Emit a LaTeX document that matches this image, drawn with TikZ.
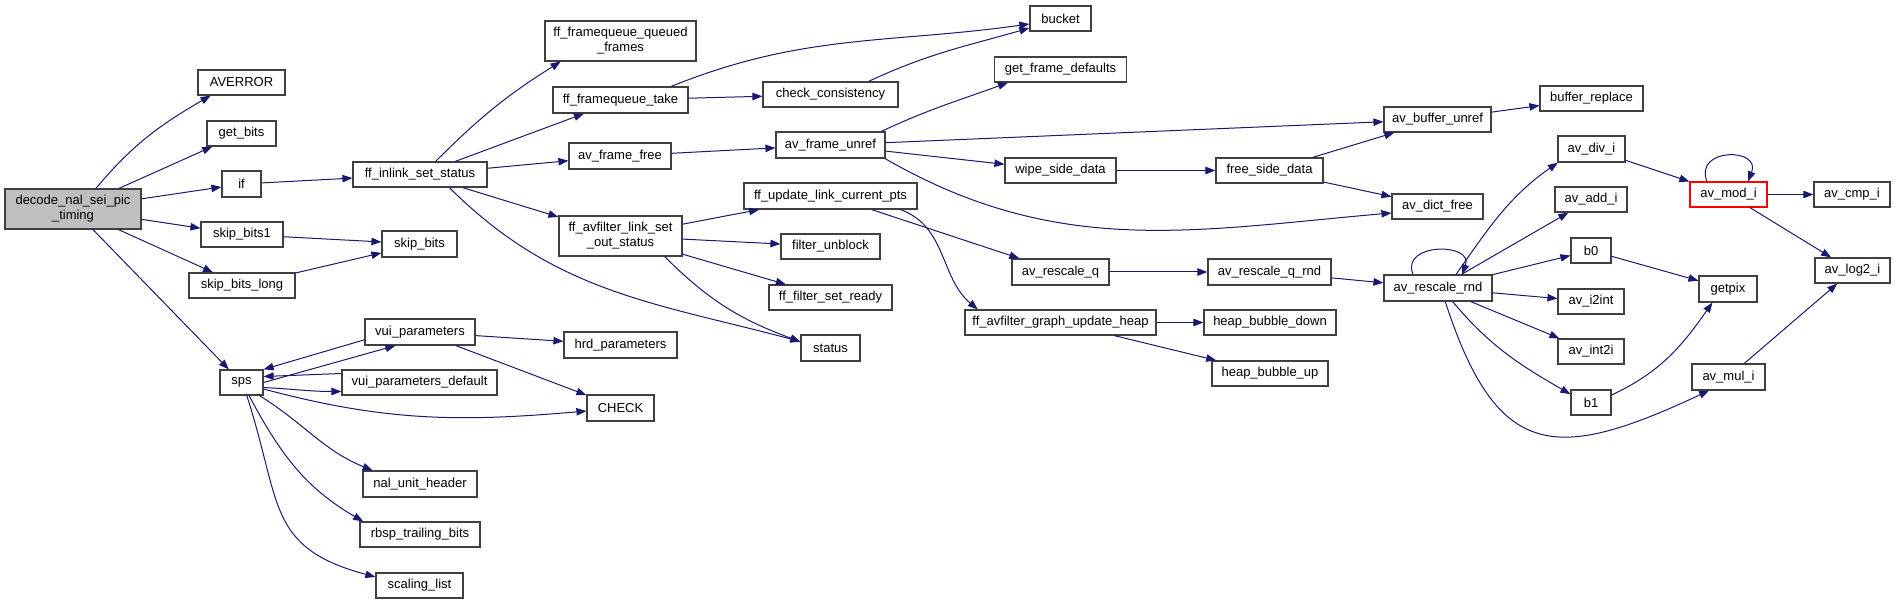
\documentclass[tikz,border=0pt]{standalone}
\usepackage{fontspec}
\setmainfont{Liberation Sans}
\usetikzlibrary{arrows.meta,calc}
\definecolor{edgeblue}{RGB}{25,25,112}
\definecolor{boxgray}{RGB}{64,64,64}
\definecolor{nodefill}{RGB}{191,191,191}
\tikzset{
  box/.style={draw=boxgray, fill=white, line width=0.9pt, inner sep=0pt, align=center,
    font=\fontsize{9.75}{11.25}\selectfont},
  e/.style={draw=edgeblue, line width=0.75pt, -{Triangle[length=7.5pt,width=5.6pt]}},
}
\newcommand\mynode[7][]{\node[box,#1,minimum width=#5*0.75pt,minimum height=#6*0.75pt] (#2) at (#3,#4) {#7};}
\begin{document}
\begin{tikzpicture}[x=0.75pt,y=0.75pt]
\useasboundingbox (0,0) rectangle (1896,604);
\fill[white] (0,0) rectangle (1896,604);
% nodes
\mynode[fill=nodefill]{decode}{73}{395}{136}{40}{decode\_nal\_sei\_pic\\\_timing}
\mynode{averror}{241.5}{521.5}{87}{25}{AVERROR}
\mynode{getbits}{241.5}{470.5}{69}{25}{get\_bits}
\mynode{iff}{241.5}{420}{39}{26}{if}
\mynode{ffin}{420}{429.5}{134}{25}{ff\_inlink\_set\_status}
\mynode{sb1}{242}{369.5}{82}{25}{skip\_bits1}
\mynode{sb}{419.5}{360}{75}{26}{skip\_bits}
\mynode{sbl}{242}{318.5}{106}{25}{skip\_bits\_long}
\mynode{vui}{420}{272}{110}{26}{vui\_parameters}
\mynode{sps}{241.5}{221.5}{43}{25}{sps}
\mynode{vuidef}{419.5}{221.5}{155}{25}{vui\_parameters\_default}
\mynode{nal}{420}{120}{114}{26}{nal\_unit\_header}
\mynode{rbsp}{420}{69.5}{120}{25}{rbsp\_trailing\_bits}
\mynode{scal}{419.5}{18.5}{87}{25}{scaling\_list}
\mynode{fqqf}{620.5}{563}{151}{40}{ff\_framequeue\_queued\\\_frames}
\mynode{fqt}{620.5}{504}{135}{26}{ff\_framequeue\_take}
\mynode{cc}{830.5}{509.5}{135}{25}{check\_consistency}
\mynode{aff}{620}{448}{102}{26}{av\_frame\_free}
\mynode{afu}{830.5}{459}{109}{26}{av\_frame\_unref}
\mynode{fulc}{830.5}{408}{173}{26}{ff\_update\_link\_current\_pts}
\mynode{flso}{620.5}{368}{123}{40}{ff\_avfilter\_link\_set\\\_out\_status}
\mynode{fub}{830.5}{357.5}{99}{25}{filter\_unblock}
\mynode{fsr}{830.5}{306.5}{123}{25}{ff\_filter\_set\_ready}
\mynode{hrd}{620.5}{259}{113}{26}{hrd\_parameters}
\mynode{check}{620.5}{196}{67}{26}{CHECK}
\mynode{status}{830.5}{256}{59}{26}{status}
\mynode{guh}{1060.5}{281.5}{191}{25}{ff\_avfilter\_graph\_update\_heap}
\mynode{bucket}{1060.5}{585.5}{61}{25}{bucket}
\mynode{gfd}{1060.5}{534.5}{132}{25}{get\_frame\_defaults}
\mynode{wsd}{1060.5}{433.5}{111}{25}{wipe\_side\_data}
\mynode{arq}{1060.5}{332}{97}{26}{av\_rescale\_q}
\mynode{bur}{1437.5}{484.5}{107}{25}{av\_buffer\_unref}
\mynode{fsd}{1269.5}{433.5}{107}{25}{free\_side\_data}
\mynode{adf}{1437.5}{397.5}{91}{25}{av\_dict\_free}
\mynode{arqr}{1269.5}{332}{123}{26}{av\_rescale\_q\_rnd}
\mynode{arr}{1438}{316}{108}{26}{av\_rescale\_rnd}
\mynode{hbd}{1270}{281.5}{132}{25}{heap\_bubble\_down}
\mynode{hbu}{1270}{230.5}{116}{25}{heap\_bubble\_up}
\mynode{brp}{1591.5}{505.5}{103}{25}{buffer\_replace}
\mynode{adiv}{1591.5}{455}{67}{26}{av\_div\_i}
\mynode{aadd}{1591}{404.5}{72}{25}{av\_add\_i}
\mynode{bzero}{1591}{353.5}{40}{25}{b0}
\mynode{ai2int}{1591}{302.5}{66}{25}{av\_i2int}
\mynode{aint2i}{1591}{252.5}{66}{25}{av\_int2i}
\mynode{bone}{1591}{201.5}{40}{25}{b1}
\mynode[draw=red]{amod}{1728.5}{409.5}{77}{25}{av\_mod\_i}
\mynode{getpix}{1728}{315}{58}{26}{getpix}
\mynode{amul}{1728.5}{227}{73}{26}{av\_mul\_i}
\mynode{acmp}{1852}{409.5}{76}{25}{av\_cmp\_i}
\mynode{alog}{1852.5}{333.5}{75}{25}{av\_log2\_i}
% edges from decode
\draw[e] (decode.42) to[out=50,in=210] (averror.203);
\draw[e] (decode) -- (getbits);
\draw[e] (decode) -- (iff);
\draw[e] (decode) -- (sb1);
\draw[e] (decode) -- (sbl);
\draw[e] (decode) -- (sps);
\draw[e] (iff) -- (ffin);
\draw[e] (sb1) -- (sb);
\draw[e] (sbl) -- (sb);
% ff_inlink_set_status
\draw[e] (ffin.40) to[out=45,in=212] (fqqf.199);
\draw[e] (ffin) -- (fqt);
\draw[e] (ffin) -- (aff);
\draw[e] (ffin) -- (flso);
\draw[e] (ffin.336) to[out=-45,in=165] (status.168);
\draw[e] (fqt.15) to[out=22,in=188] (bucket.190);
\draw[e] (fqt) -- (cc);
\draw[e] (cc.19) to[out=25,in=196] (bucket.197);
\draw[e] (aff) -- (afu);
\draw[e] (afu.15) to[out=25,in=200] (gfd.194);
\draw[e] (afu) -- (bur);
\draw[e] (afu) -- (wsd);
\draw[e] (afu.-14) to[out=-30,in=185] (adf.188);
\draw[e] (wsd) -- (fsd);
\draw[e] (fsd) -- (bur);
\draw[e] (fsd) -- (adf);
\draw[e] (bur) -- (brp);
% ff_avfilter_link_set_out_status
\draw[e] (flso) -- (fulc);
\draw[e] (flso) -- (fub);
\draw[e] (flso) -- (fsr);
\draw[e] (flso.-25) to[out=-45,in=160] (status.168);
\draw[e] (fulc) -- (arq);
\draw[e] (fulc.-11) to[out=-20,in=140] (guh.171);
\draw[e] (arq) -- (arqr);
\draw[e] (arqr) -- (arr);
\draw[e] (guh) -- (hbd);
\draw[e] (guh) -- (hbu);
% av_rescale_rnd
\draw[e] ($(arr.north)+(-25,0)$) .. controls ($(arr.north)+(-38,32)$) and ($(arr.north)+(36,32)$) .. ($(arr.north)+(24,0)$);
\draw[e] (arr.37) to[out=55,in=215] (adiv.202);
\draw[e] (arr) -- (aadd);
\draw[e] (arr) -- (bzero);
\draw[e] (arr) -- (ai2int);
\draw[e] (arr) -- (aint2i);
\draw[e] (arr.-43) to[out=-50,in=150] (bone.158);
\draw[e] (arr.-62) to[out=-72,in=205,looseness=1.55] (amul.215);
\draw[e] (adiv) -- (amod);
\draw[e] ($(amod.north)+(-21.5,0)$) .. controls ($(amod.north)+(-35,34)$) and ($(amod.north)+(33,34)$) .. ($(amod.north)+(19.5,0)$);
\draw[e] (amod) -- (acmp);
\draw[e] (amod) -- (alog);
\draw[e] (bzero) -- (getpix);
\draw[e] (bone.20) to[out=25,in=235] (getpix.221);
\draw[e] (amul) -- (alog);
% sps
\draw[e] (sps.east) -- (vui.209);
\draw[e] (vui.188) -- (sps.north east);
\draw[e] ($(vuidef.west)+(0,9)$) -- ($(sps.east)+(0,6)$);
\draw[e] ($(sps.east)+(0,-5)$) to[out=-3,in=180] ($(vuidef.west)+(0,-9)$);
\draw[e] ($(sps.east)+(0,-6.5)$) to[out=-15,in=185] (check.185);
\draw[e] (sps.-36) to[out=-32,in=158] (nal.164);
\draw[e] (sps.-60) to[out=-62,in=150] (rbsp.167);
\draw[e] (sps.-68) to[out=-72,in=165,looseness=1.3] (scal.169);
\draw[e] (vui) -- (hrd);
\draw[e] (vui) -- (check);
\end{tikzpicture}
\end{document}
